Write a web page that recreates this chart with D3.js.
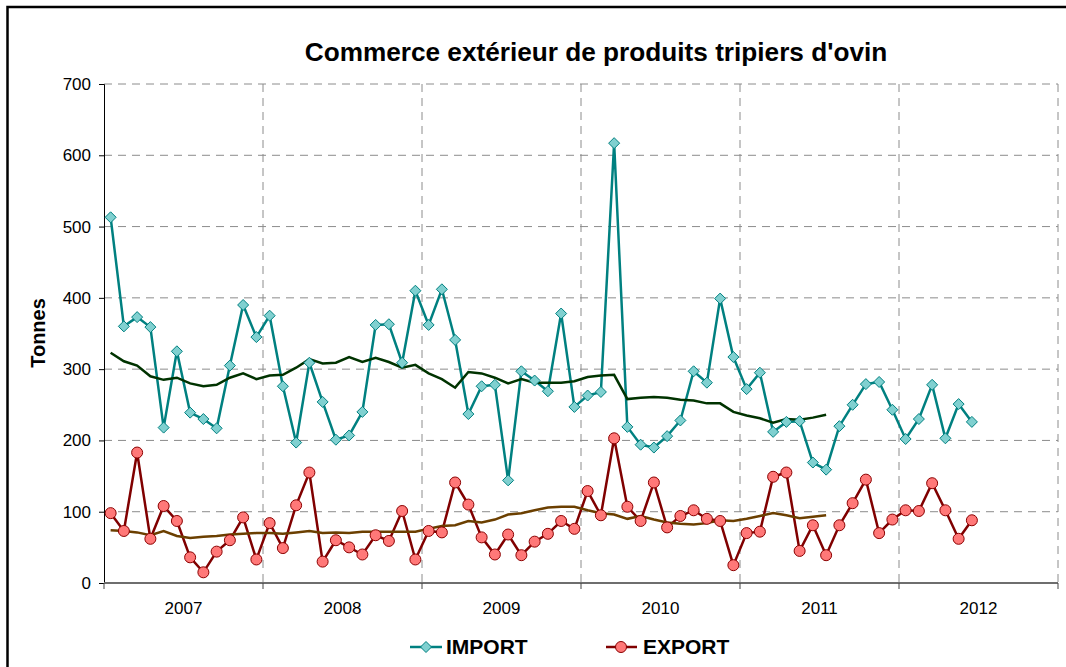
<!DOCTYPE html>
<html><head><meta charset="utf-8">
<script src="https://cdn.jsdelivr.net/npm/d3@7"></script>
<style>
html,body{margin:0;padding:0;background:#fff;}
svg{display:block;font-family:Arial,"Liberation Sans",sans-serif;}
</style></head>
<body>
<svg id="chart" width="1066" height="667"></svg>
<script>
const years = ["2007","2008","2009","2010","2011","2012"];
const yTicks = [0,100,200,300,400,500,600,700];
const importValues = [513,360,373,359,218,325,239,230,217,305,390,345,
  375,276,197,309,254,201,207,240,362,363,309,410,
  362,412,341,237,276,278,144,297,284,269,378,247,
  263,268,617,219,194,190,206,228,297,281,399,317,
  272,295,212,226,227,169,159,220,250,279,282,243,
  202,230,278,203,251,226];
const exportValues = [98,73,183,62,108,87,36,15,44,60,92,33,
  84,49,109,155,30,60,50,40,67,59,101,33,
  73,71,141,110,64,40,68,39,58,69,87,76,
  129,95,203,107,87,141,78,94,102,90,87,25,
  70,72,149,155,45,81,39,81,112,145,70,89,
  102,101,140,102,62,88];
const importTrend = [323,311,305,290,285,288,280,276,278,288,294,286,
  291,292,302,314,308,309,317,310,316,310,302,306,
  294,286,274,296,294,288,280,286,281,281,281,283,
  289,291,292,258,260,261,260,257,256,252,252,240,
  235,231,225,230,229,232,236];
const exportTrend = [74,73,71,67,73,66,63,65,66,68,69,70,
  70,69,71,73,70,71,70,72,72,72,72,72,
  76,80,81,87,85,89,96,98,102,106,107,107,
  102,98,96,90,94,89,85,83,82,84,88,87,
  90,94,98,95,91,93,95];
const legendLabels = ["IMPORT","EXPORT"];

const svg = d3.select("#chart");
const L = 104, R = 1058, T = 84, B = 583;
const x = d3.scaleLinear().domain([0, 72]).range([L, R]);
const y = d3.scaleLinear().domain([0, 700]).range([B, T]);
const xi = (d, i) => x(i + 0.5);

// outer frame
svg.append("rect").attr("x", 7.5).attr("y", 7).attr("width", 1200).attr("height", 800)
  .attr("fill", "none").attr("stroke", "#000").attr("stroke-width", 2.5);

// title
svg.append("text").attr("x", 596).attr("y", 61).attr("text-anchor", "middle")
  .attr("font-size", 26.2).attr("font-weight", "bold").attr("fill", "#000")
  .text("Commerce extérieur de produits tripiers d'ovin");

// horizontal gridlines
svg.append("g").selectAll("line").data(yTicks.filter(d => d > 0)).join("line")
  .attr("x1", L).attr("x2", R).attr("y1", d => y(d)).attr("y2", d => y(d))
  .attr("stroke", "#8c8c8c").attr("stroke-width", 1).attr("stroke-dasharray", "8,6");
// vertical gridlines
svg.append("g").selectAll("line").data(d3.range(1, years.length + 1)).join("line")
  .attr("x1", d => x(d * 12)).attr("x2", d => x(d * 12)).attr("y1", T).attr("y2", B)
  .attr("stroke", "#8c8c8c").attr("stroke-width", 1).attr("stroke-dasharray", "8,6");

// y axis
const yAxis = d3.axisLeft(y).tickValues(yTicks).tickSize(5).tickPadding(8);
const gy = svg.append("g").attr("transform", `translate(${L},0)`).call(yAxis);
gy.attr("font-size", 17).attr("font-family", "Arial, 'Liberation Sans', sans-serif");
gy.select(".domain").attr("stroke", "#000");
gy.selectAll(".tick line").attr("stroke", "#000");
gy.selectAll("text").attr("font-size", 17).attr("fill", "#000");

// x axis
const gx = svg.append("g").attr("transform", `translate(0,${B})`);
gx.append("line").attr("x1", L).attr("x2", R).attr("y1", 0).attr("y2", 0)
  .attr("stroke", "#6e6e6e").attr("stroke-width", 2);
gx.selectAll(".tk").data(d3.range(0, years.length + 1)).join("line").attr("class", "tk")
  .attr("x1", d => x(d * 12)).attr("x2", d => x(d * 12)).attr("y1", 0).attr("y2", 6)
  .attr("stroke", "#444").attr("stroke-width", 1);
gx.selectAll(".yl").data(years).join("text").attr("class", "yl")
  .attr("x", (d, i) => x(i * 12 + 6)).attr("y", 31).attr("text-anchor", "middle")
  .attr("font-size", 17).attr("fill", "#000").text(d => d);

// y label
svg.append("text").attr("transform", "translate(45,333) rotate(-90)")
  .attr("text-anchor", "middle").attr("font-size", 20).attr("font-weight", "bold")
  .text("Tonnes");

const line = d3.line().x(xi).y(d => y(d));

// series lines
svg.append("path").datum(importValues).attr("d", line).attr("fill", "none")
  .attr("stroke", "#008080").attr("stroke-width", 2.5);
svg.append("path").datum(exportValues).attr("d", line).attr("fill", "none")
  .attr("stroke", "#800000").attr("stroke-width", 2.5);
// trend lines
svg.append("path").datum(importTrend).attr("d", line).attr("fill", "none")
  .attr("stroke", "#003300").attr("stroke-width", 2.5);
svg.append("path").datum(exportTrend).attr("d", line).attr("fill", "none")
  .attr("stroke", "#6b3f00").attr("stroke-width", 2.5);

function drawDiamond(g, cx, cy) {
  g.append("path").attr("d", "M0,-5.5L5.5,0L0,5.5L-5.5,0Z")
    .attr("transform", `translate(${cx},${cy})`)
    .attr("fill", "#80d0d0").attr("stroke", "#008080").attr("stroke-width", 1);
}
const gi = svg.append("g");
importValues.forEach((d, i) => drawDiamond(gi, xi(d, i), y(d)));
svg.append("g").selectAll("circle").data(exportValues).join("circle")
  .attr("cx", xi).attr("cy", d => y(d)).attr("r", 5.5)
  .attr("fill", "#ff7878").attr("stroke", "#8b0000").attr("stroke-width", 1);

// legend
const lg = svg.append("g");
lg.append("line").attr("x1", 410).attr("x2", 442).attr("y1", 647).attr("y2", 647)
  .attr("stroke", "#008080").attr("stroke-width", 2.5);
drawDiamond(lg, 426, 647);
lg.append("text").attr("x", 446).attr("y", 654).attr("font-size", 21).attr("font-weight", "bold")
  .text(legendLabels[0]);
lg.append("line").attr("x1", 606).attr("x2", 637).attr("y1", 647).attr("y2", 647)
  .attr("stroke", "#800000").attr("stroke-width", 2.5);
lg.append("circle").attr("cx", 621).attr("cy", 647).attr("r", 5.5)
  .attr("fill", "#ff7878").attr("stroke", "#8b0000");
lg.append("text").attr("x", 643).attr("y", 654).attr("font-size", 21).attr("font-weight", "bold")
  .text(legendLabels[1]);
</script>
</body></html>
